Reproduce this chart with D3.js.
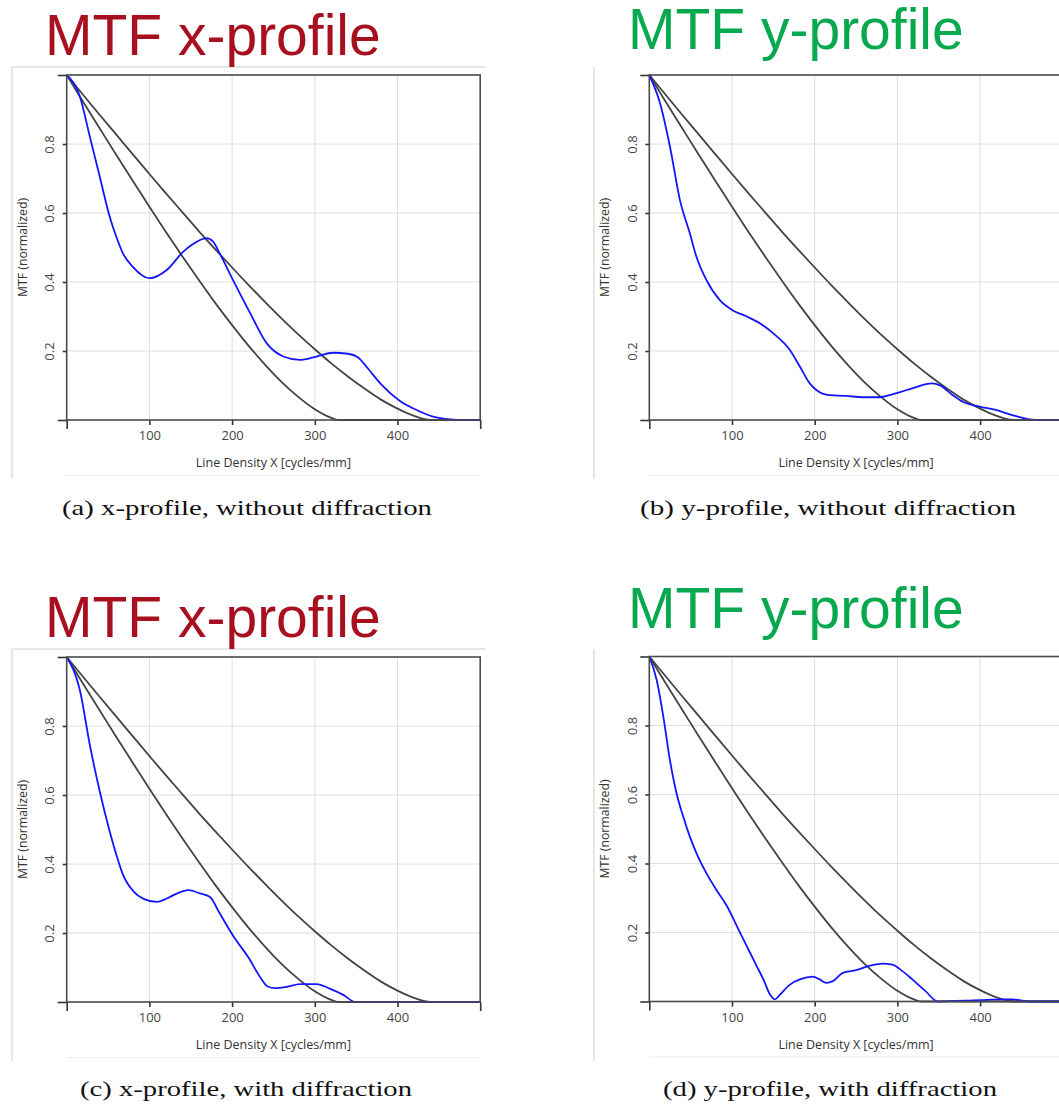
<!DOCTYPE html>
<html><head><meta charset="utf-8">
<script src="https://cdn.jsdelivr.net/npm/d3@7"></script>
<style>body{margin:0;background:#fff} svg{display:block}</style>
</head><body>
<svg id="c" width="1059" height="1104"></svg>
<script>
// ---- data ----
const xTicks = [100, 200, 300, 400];
const yTicks = [0.2, 0.4, 0.6, 0.8];
const xDomain = [0, 500];
const yDomain = [0, 1];

// diffraction-limit reference curves (same in all four panels)
const freqOuter = [0,20,40,60,80,100,120,140,160,180,200,220,240,260,280,300,320,340,360,380,400,420,440,500];
const mtfOuter  = [1,0.942,0.884,0.827,0.770,0.713,0.657,0.602,0.547,0.494,0.442,0.391,0.342,0.294,0.248,0.205,0.164,0.126,0.091,0.059,0.033,0.012,0,0];
const freqInner = [0,20,40,60,80,100,120,140,160,180,200,220,240,260,280,300,320,328,500];
const mtfInner  = [1,0.922,0.845,0.768,0.693,0.618,0.545,0.474,0.405,0.338,0.275,0.215,0.160,0.110,0.067,0.031,0.006,0,0];

// measured MTF (blue) per panel: [cycles/mm, MTF]
const blueA = [[0,1],[16,0.937],[28,0.821],[40,0.705],[52,0.589],[60,0.531],[68,0.483],[80,0.444],[100,0.411],[121,0.435],[141,0.488],[151,0.507],[169,0.527],[177,0.517],[185,0.483],[201,0.406],[222,0.309],[242,0.222],[262,0.184],[282,0.174],[302,0.184],[322,0.195],[340,0.192],[352,0.182],[364,0.150],[380,0.104],[403,0.055],[423,0.029],[443,0.010],[464,0.002],[480,0],[500,0]];
const blueB = [[0,1],[13,0.918],[25,0.792],[37,0.638],[49,0.541],[57,0.473],[69,0.406],[85,0.348],[100,0.319],[118,0.300],[134,0.280],[150,0.251],[170,0.203],[182,0.155],[194,0.106],[202,0.087],[218,0.072],[238,0.070],[258,0.066],[278,0.066],[298,0.077],[318,0.092],[342,0.106],[351,0.101],[367,0.072],[379,0.053],[399,0.039],[419,0.029],[439,0.014],[467,0],[500,0]];
const blueC = [[0,1],[16,0.903],[28,0.745],[40,0.610],[52,0.494],[60,0.427],[68,0.369],[81,0.320],[93,0.299],[109,0.290],[121,0.300],[133,0.314],[147,0.324],[161,0.315],[173,0.305],[185,0.257],[202,0.189],[220,0.128],[234,0.072],[243,0.045],[252,0.040],[266,0.044],[282,0.052],[302,0.052],[318,0.039],[335,0.020],[349,0],[500,0]];
const blueD = [[0,1],[9,0.931],[17,0.825],[25,0.699],[33,0.603],[41,0.536],[49,0.478],[57,0.430],[69,0.372],[81,0.324],[94,0.276],[106,0.218],[118,0.160],[130,0.102],[138,0.064],[146,0.020],[152,0.006],[158,0.020],[170,0.049],[182,0.064],[198,0.072],[206,0.064],[214,0.054],[222,0.059],[234,0.083],[250,0.091],[266,0.103],[282,0.110],[294,0.107],[306,0.088],[318,0.064],[334,0.030],[349,0],[399,0.004],[427,0.006],[439,0.006],[459,0],[500,0]];

const titles = ["MTF x-profile", "MTF y-profile", "MTF x-profile", "MTF y-profile"];
const captions = ["(a) x-profile, without diffraction", "(b) y-profile, without diffraction",
                  "(c) x-profile, with diffraction", "(d) y-profile, with diffraction"];
const yTitle = "MTF (normalized)";
const xTitle = "Line Density X [cycles/mm]";

// ---- layout ----
const W = 413.5, H = 345;
const panels = [
  {blue: blueA, px: 66.7, py: 75, title: titles[0], tcol: "#a8101f", tx: 45, ty: 55, cap: captions[0], cx: 62, cw: 370, cy: 515, lx: 12, ly: 67, topLine: true},
  {blue: blueB, px: 649.3, py: 75, title: titles[1], tcol: "#08a94e", tx: 628, ty: 49, cap: captions[1], cx: 640, cw: 376, cy: 515, lx: 594, ly: 67, topLine: false},
  {blue: blueC, px: 66.7, py: 657, title: titles[2], tcol: "#a8101f", tx: 45, ty: 637, cap: captions[2], cx: 80, cw: 332, cy: 1096, lx: 12, ly: 649, topLine: true},
  {blue: blueD, px: 649.3, py: 656.5, title: titles[3], tcol: "#08a94e", tx: 628, ty: 628, cap: captions[3], cx: 663, cw: 334, cy: 1096, lx: 594, ly: 649, topLine: false}
];

const svg = d3.select("#c");
const x = d3.scaleLinear().domain(xDomain).range([0, W]);
const y = d3.scaleLinear().domain(yDomain).range([H, 0]);
const outerPts = freqOuter.map((f, i) => [f, mtfOuter[i]]);
const innerPts = freqInner.map((f, i) => [f, mtfInner[i]]);
const line = d3.line().x(d => x(d[0])).y(d => y(d[1])).curve(d3.curveMonotoneX);

panels.forEach(p => {
  // screenshot border lines
  svg.append("line").attr("x1", p.lx).attr("x2", p.lx).attr("y1", p.ly).attr("y2", p.ly + 412)
     .attr("stroke", "#cfcfcf").attr("stroke-width", 1);
  if (p.topLine) svg.append("line").attr("x1", p.lx).attr("x2", 485).attr("y1", p.ly).attr("y2", p.ly)
     .attr("stroke", "#cfcfcf").attr("stroke-width", 1);
  svg.append("line").attr("x1", p.px).attr("x2", p.px + W).attr("y1", p.py + H + 55.5).attr("y2", p.py + H + 55.5)
     .attr("stroke", "#ececec").attr("stroke-width", 1);

  // title
  svg.append("text").attr("x", p.tx).attr("y", p.ty).text(p.title)
     .attr("font-family", "Liberation Sans, Arial, sans-serif").attr("font-size", 57).attr("fill", p.tcol);

  // caption
  svg.append("text").attr("x", p.cx).attr("y", p.cy).text(p.cap)
     .attr("font-family", "Liberation Serif, DejaVu Serif, serif").attr("font-size", 22).attr("fill", "#111")
     .attr("textLength", p.cw).attr("lengthAdjust", "spacingAndGlyphs");

  const g = svg.append("g").attr("transform", `translate(${p.px},${p.py})`);

  // grid
  g.selectAll(".gx").data(xTicks).join("line").attr("x1", d => x(d)).attr("x2", d => x(d))
     .attr("y1", 0).attr("y2", H).attr("stroke", "#dedede").attr("stroke-width", 1);
  g.selectAll(".gy").data(yTicks).join("line").attr("y1", d => y(d)).attr("y2", d => y(d))
     .attr("x1", 0).attr("x2", W).attr("stroke", "#dedede").attr("stroke-width", 1);

  // axes
  const axB = g.append("g").attr("transform", `translate(0,${H})`)
     .call(d3.axisBottom(x).tickValues(xTicks).tickSize(5).tickPadding(6).tickFormat(d3.format("d")));
  const axBe = g.append("g").attr("transform", `translate(0,${H})`)
     .call(d3.axisBottom(x).tickValues(xDomain).tickSize(9).tickFormat(""));
  const axL = g.append("g")
     .call(d3.axisLeft(y).tickValues(yTicks).tickSize(4).tickPadding(6).tickFormat(d3.format(".1f")));
  const axLe = g.append("g")
     .call(d3.axisLeft(y).tickValues(yDomain).tickSize(9).tickFormat(""));
  [axB, axBe, axL, axLe].forEach(a => {
    a.select(".domain").remove();
    a.selectAll(".tick line").attr("stroke", "#333").attr("stroke-width", 1.6);
    a.selectAll("text").attr("font-family", "Open Sans, Noto Sans, sans-serif").attr("font-size", 13).attr("fill", "#444");
  });
  axL.selectAll(".tick text").attr("transform", "rotate(-90)").attr("text-anchor", "middle")
     .attr("x", 0).attr("dx", 0).attr("y", -17).attr("dy", "0.35em");

  // curves
  g.append("path").datum(outerPts).attr("d", line).attr("fill", "none").attr("stroke", "#444").attr("stroke-width", 1.8);
  g.append("path").datum(innerPts).attr("d", line).attr("fill", "none").attr("stroke", "#444").attr("stroke-width", 1.8);
  g.append("path").datum(p.blue).attr("d", line).attr("fill", "none").attr("stroke", "#1515ff").attr("stroke-width", 1.8);

  // frame
  g.append("rect").attr("x", 0).attr("y", 0).attr("width", W).attr("height", H)
     .attr("fill", "none").attr("stroke", "#4a4a4a").attr("stroke-width", 1.6);

  // axis titles
  g.append("text").attr("x", W / 2).attr("y", H + 47).attr("text-anchor", "middle").text(xTitle)
     .attr("font-family", "Open Sans, Noto Sans, sans-serif").attr("font-size", 12.5).attr("fill", "#333");
  g.append("text").attr("transform", `translate(-40,${H / 2}) rotate(-90)`).attr("text-anchor", "middle").text(yTitle)
     .attr("font-family", "Open Sans, Noto Sans, sans-serif").attr("font-size", 12.3).attr("fill", "#333");
});
</script>
</body></html>
